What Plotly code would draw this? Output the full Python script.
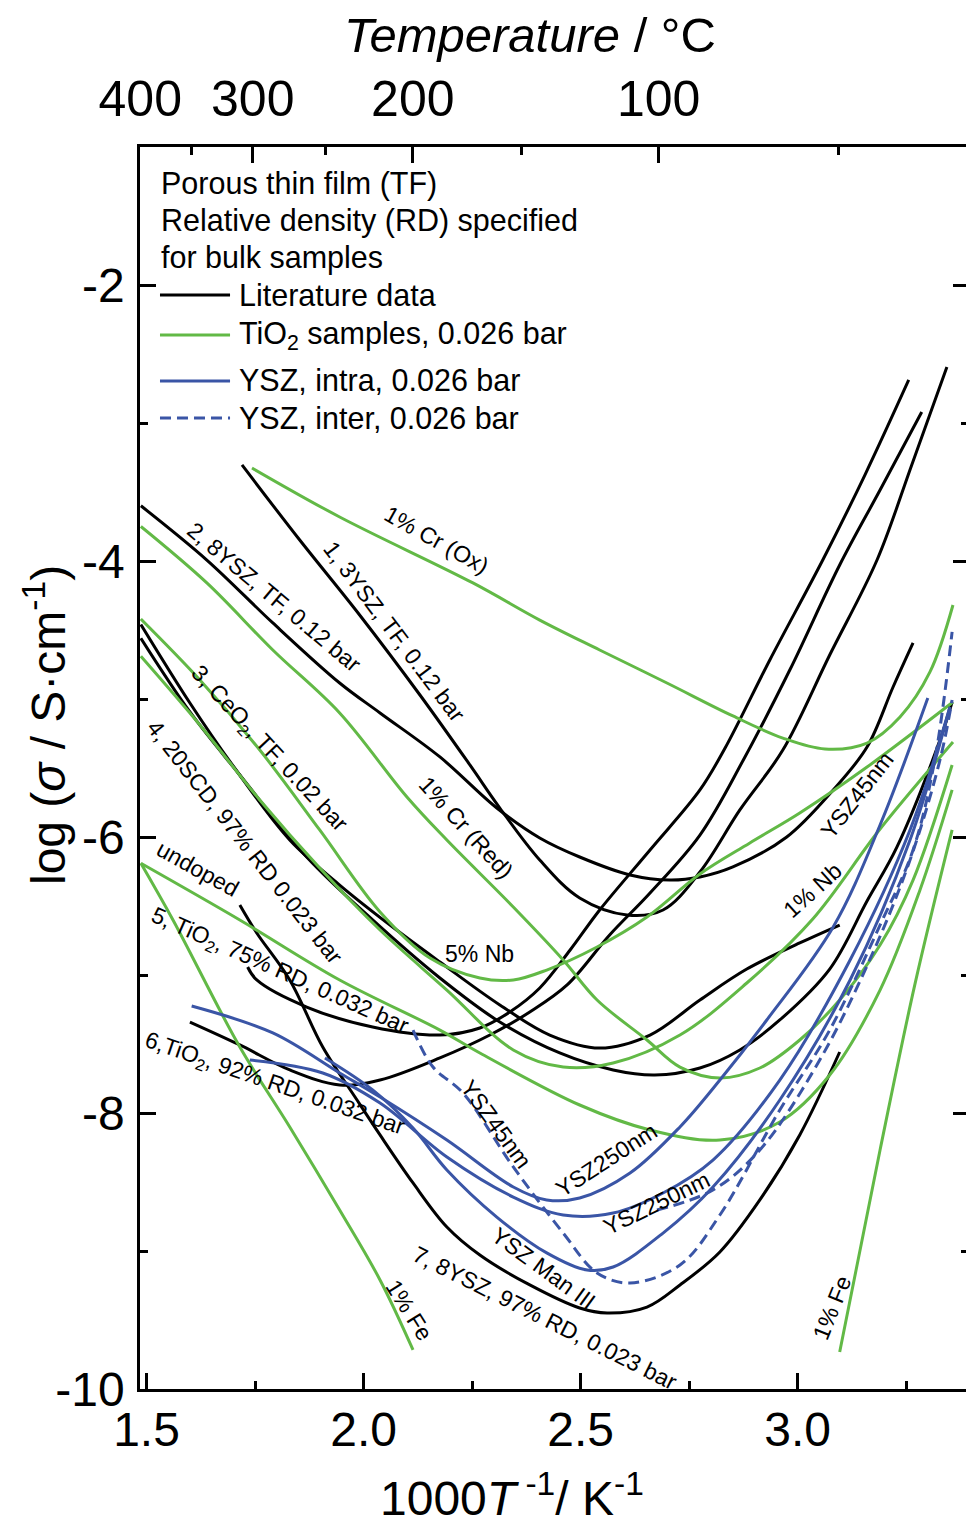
import plotly.graph_objects as go

# ---------------------------------------------------------------
# Conductivity data: x = 1000/T (K^-1), y = log10(sigma / S cm^-1)
# ---------------------------------------------------------------

# Literature data (black)
lit1_x = [1.720, 1.853, 1.991, 2.130, 2.245, 2.314, 2.406, 2.498, 2.607, 2.690, 2.775, 2.867, 2.966, 3.074, 3.183, 3.263, 3.344]
lit1_y = [-3.304, -3.848, -4.391, -4.971, -5.478, -5.790, -6.167, -6.442, -6.565, -6.529, -6.254, -5.804, -5.370, -4.681, -3.993, -3.304, -2.594]

lit2_x = [1.487, 1.639, 1.791, 1.945, 2.038, 2.176, 2.307, 2.406, 2.498, 2.614, 2.706, 2.775, 2.851, 2.975, 3.082, 3.160, 3.220, 3.266]
lit2_y = [-3.600, -3.993, -4.449, -4.884, -5.101, -5.420, -5.790, -6.007, -6.145, -6.275, -6.312, -6.290, -6.217, -6.000, -5.659, -5.348, -4.913, -4.594]

lit3_x = [1.487, 1.600, 1.703, 1.830, 1.945, 2.061, 2.176, 2.314, 2.429, 2.544, 2.660, 2.775, 2.883, 3.005, 3.097]
lit3_y = [-4.460, -5.029, -5.500, -6.022, -6.348, -6.638, -6.906, -7.217, -7.435, -7.529, -7.435, -7.181, -6.957, -6.768, -6.638]

lit4_x = [1.487, 1.600, 1.715, 1.869, 2.021, 2.176, 2.314, 2.452, 2.575, 2.671, 2.775, 2.867, 2.959, 3.074, 3.160, 3.229, 3.328, 3.356]
lit4_y = [-4.560, -5.094, -5.551, -6.145, -6.601, -7.022, -7.341, -7.565, -7.688, -7.725, -7.674, -7.543, -7.326, -6.957, -6.464, -6.072, -5.297, -5.022]

lit5_x = [1.733, 1.754, 1.869, 2.021, 2.176, 2.268, 2.337, 2.406, 2.476, 2.544, 2.660, 2.775, 2.833, 2.936, 3.058, 3.155, 3.256]
lit5_y = [-6.942, -7.036, -7.232, -7.377, -7.435, -7.384, -7.268, -7.094, -6.819, -6.529, -6.094, -5.659, -5.355, -4.717, -3.993, -3.377, -2.688]

lit6_x = [1.600, 1.715, 1.830, 1.945, 2.038, 2.176, 2.291, 2.383, 2.469, 2.567, 2.660, 2.775, 2.875, 2.982, 3.097, 3.190, 3.286]
lit6_y = [-7.341, -7.507, -7.688, -7.797, -7.761, -7.601, -7.435, -7.268, -7.072, -6.710, -6.406, -5.986, -5.442, -4.790, -4.029, -3.486, -2.920]

lit7_x = [1.715, 1.754, 1.830, 1.906, 1.985, 2.038, 2.114, 2.192, 2.268, 2.383, 2.498, 2.561, 2.653, 2.729, 2.821, 2.913, 3.005, 3.097]
lit7_y = [-6.493, -6.696, -7.036, -7.522, -7.906, -8.159, -8.507, -8.826, -9.029, -9.246, -9.413, -9.449, -9.406, -9.246, -9.007, -8.630, -8.159, -7.558]

# TiO2 samples (green)
cr_ox_x = [1.743, 1.945, 2.252, 2.406, 2.544, 2.699, 2.851, 2.966, 3.063, 3.160, 3.236, 3.305, 3.358]
cr_ox_y = [-3.326, -3.681, -4.159, -4.428, -4.645, -4.884, -5.123, -5.283, -5.362, -5.319, -5.130, -4.804, -4.319]

cr_red_x = [1.487, 1.639, 1.791, 1.945, 2.100, 2.192, 2.345, 2.460, 2.538, 2.653, 2.729, 2.821, 2.913, 3.005, 3.097, 3.190, 3.266, 3.356]
cr_red_y = [-3.750, -4.159, -4.645, -5.101, -5.710, -6.022, -6.507, -6.891, -7.181, -7.471, -7.667, -7.746, -7.674, -7.471, -7.181, -6.783, -6.312, -5.478]

nb5_x = [1.487, 1.623, 1.761, 1.899, 2.038, 2.153, 2.268, 2.345, 2.422, 2.538, 2.653, 2.775, 2.890, 3.005, 3.160, 3.358]
nb5_y = [-4.420, -4.862, -5.370, -5.949, -6.543, -6.877, -7.022, -7.036, -6.964, -6.797, -6.580, -6.268, -6.043, -5.826, -5.493, -5.022]

nb1_x = [1.487, 1.623, 1.761, 1.899, 2.038, 2.192, 2.345, 2.460, 2.575, 2.729, 2.883, 3.035, 3.190, 3.358]
nb1_y = [-4.690, -5.188, -5.732, -6.225, -6.674, -7.109, -7.543, -7.667, -7.638, -7.435, -7.058, -6.594, -5.942, -5.312]

undoped_x = [1.487, 1.715, 1.945, 2.176, 2.268, 2.498, 2.660, 2.821, 2.959, 3.074, 3.190, 3.282, 3.356]
undoped_y = [-6.190, -6.601, -7.036, -7.399, -7.565, -7.942, -8.123, -8.196, -8.065, -7.725, -7.109, -6.384, -5.659]

fe_hi_x = [1.487, 1.561, 1.715, 1.830, 1.945, 2.038, 2.114]
fe_hi_y = [-6.190, -6.601, -7.522, -8.101, -8.703, -9.210, -9.717]

fe_lo_x = [3.097, 3.190, 3.270, 3.356]
fe_lo_y = [-9.732, -8.268, -7.072, -5.949]

# YSZ, intra-grain (solid blue)
ysz_a_x = [1.604, 1.791, 1.945, 2.038, 2.192, 2.345, 2.422, 2.498, 2.614, 2.729, 2.821, 2.929, 3.082, 3.190, 3.300]
ysz_a_y = [-7.225, -7.420, -7.710, -7.884, -8.196, -8.536, -8.630, -8.616, -8.435, -8.101, -7.761, -7.326, -6.652, -5.913, -4.993]

ysz_b_x = [1.738, 1.906, 2.038, 2.192, 2.345, 2.460, 2.575, 2.690, 2.805, 2.959, 3.121, 3.259, 3.351]
ysz_b_y = [-7.616, -7.710, -7.928, -8.319, -8.609, -8.739, -8.725, -8.580, -8.341, -7.761, -6.891, -5.949, -5.058]

ysz_c_x = [1.911, 2.021, 2.114, 2.192, 2.307, 2.422, 2.515, 2.575, 2.690, 2.805, 2.959, 3.121, 3.259, 3.351]
ysz_c_y = [-7.601, -7.833, -8.109, -8.413, -8.754, -9.014, -9.138, -9.116, -8.870, -8.536, -7.906, -7.036, -6.022, -5.058]

# YSZ, inter-grain (dashed blue)
ysz_d_x = [2.114, 2.160, 2.229, 2.345, 2.460, 2.538, 2.614, 2.729, 2.821, 2.959, 3.074, 3.190, 3.266, 3.316, 3.356]
ysz_d_y = [-7.399, -7.667, -7.855, -8.391, -8.870, -9.159, -9.232, -9.101, -8.739, -7.978, -7.399, -6.638, -6.094, -5.442, -4.514]

ysz_e_x = [2.676, 2.805, 2.913, 3.051, 3.166, 3.259, 3.328, 3.356]
ysz_e_y = [-8.703, -8.558, -8.268, -7.616, -6.891, -6.167, -5.442, -5.007]

# Axis ticks
x_major = [1.5, 2.0, 2.5, 3.0]
x_minor = [1.75, 2.25, 2.75, 3.25]
y_major = [-10, -8, -6, -4, -2]
y_minor = [-9, -7, -5, -3]
temp_major_c = [400, 300, 200, 100]
temp_minor_c = [350, 250, 150, 50]

BLACK = "#000000"
GREEN = "#62b946"
BLUE = "#3a55a6"
DASH = "11px,6px"
FONT = "Liberation Sans, Arial, sans-serif"

X_RANGE = [1.485, 3.388]
Y_RANGE = [-10.0, -1.0]

series = [
    (lit1_x, lit1_y, BLACK, "solid"),
    (lit2_x, lit2_y, BLACK, "solid"),
    (lit3_x, lit3_y, BLACK, "solid"),
    (lit4_x, lit4_y, BLACK, "solid"),
    (lit5_x, lit5_y, BLACK, "solid"),
    (lit6_x, lit6_y, BLACK, "solid"),
    (lit7_x, lit7_y, BLACK, "solid"),
    (cr_ox_x, cr_ox_y, GREEN, "solid"),
    (cr_red_x, cr_red_y, GREEN, "solid"),
    (nb5_x, nb5_y, GREEN, "solid"),
    (nb1_x, nb1_y, GREEN, "solid"),
    (undoped_x, undoped_y, GREEN, "solid"),
    (fe_hi_x, fe_hi_y, GREEN, "solid"),
    (fe_lo_x, fe_lo_y, GREEN, "solid"),
    (ysz_a_x, ysz_a_y, BLUE, "solid"),
    (ysz_b_x, ysz_b_y, BLUE, "solid"),
    (ysz_c_x, ysz_c_y, BLUE, "solid"),
    (ysz_d_x, ysz_d_y, BLUE, DASH),
    (ysz_e_x, ysz_e_y, BLUE, DASH),
]

fig = go.Figure()
for xs, ys, color, dash in series:
    fig.add_trace(go.Scatter(
        x=xs, y=ys, mode="lines",
        line=dict(color=color, width=3, dash=dash, shape="spline", smoothing=1.0),
        showlegend=False, hoverinfo="skip",
    ))

# helper traces so the top and right axes are drawn
fig.add_trace(go.Scatter(x=[None], y=[None], xaxis="x2", yaxis="y", showlegend=False, hoverinfo="skip"))
fig.add_trace(go.Scatter(x=[None], y=[None], xaxis="x", yaxis="y2", showlegend=False, hoverinfo="skip"))

temp_major_x = [1000.0 / (t + 273.15) for t in temp_major_c]
temp_minor_x = [1000.0 / (t + 273.15) for t in temp_minor_c]

axis_common = dict(showgrid=False, zeroline=False, linecolor="black", linewidth=2.5,
                   ticks="inside", tickcolor="black", tickwidth=2.5)

fig.update_layout(
    width=966, height=1524,
    margin=dict(l=140, r=0, t=147, b=135),
    plot_bgcolor="white", paper_bgcolor="white",
    font=dict(family=FONT, color="black"),
    xaxis=dict(range=X_RANGE, showline=True, mirror=False, ticklen=16,
               tickmode="array", tickvals=x_major, ticktext=[f"{v:.1f}" for v in x_major],
               tickfont=dict(size=48, family=FONT), ticklabelstandoff=-3,
               minor=dict(ticks="inside", tickmode="array", tickvals=x_minor, ticklen=8,
                          tickwidth=2.5, tickcolor="black", showgrid=False),
               **axis_common),
    xaxis2=dict(range=X_RANGE, overlaying="x", side="top", anchor="y", showline=True, ticklen=16,
                tickmode="array", tickvals=temp_major_x, ticktext=[str(t) for t in temp_major_c],
                tickfont=dict(size=50, family=FONT), ticklabelstandoff=8,
                minor=dict(ticks="inside", tickmode="array", tickvals=temp_minor_x, ticklen=8,
                           tickwidth=2.5, tickcolor="black", showgrid=False),
                **axis_common),
    yaxis=dict(range=Y_RANGE, showline=True, mirror=False, ticklen=16,
               tickmode="array", tickvals=y_major, ticktext=[str(v) for v in y_major],
               tickfont=dict(size=48, family=FONT), ticklabelstandoff=3,
               minor=dict(ticks="inside", tickmode="array", tickvals=y_minor, ticklen=8,
                          tickwidth=2.5, tickcolor="black", showgrid=False),
               **axis_common),
    yaxis2=dict(range=Y_RANGE, overlaying="y", side="right", anchor="x", showline=False,
                ticklen=13, tickmode="array", tickvals=y_major, showticklabels=False,
                minor=dict(ticks="inside", tickmode="array", tickvals=y_minor, ticklen=5,
                           tickwidth=2.5, tickcolor="black", showgrid=False),
                **axis_common),
)

annotations = []

# axis titles
annotations.append(dict(xref="paper", yref="paper", x=0.472, y=1.0900, xanchor="center", yanchor="middle",
                        text="<i>Temperature</i> / °C", showarrow=False, font=dict(size=49, family=FONT)))
annotations.append(dict(xref="paper", yref="paper", x=0.450, y=-0.0850, xanchor="center", yanchor="middle",
                        text="1000<i>T</i><sup> -1</sup>/ K<sup>-1</sup>", showarrow=False,
                        font=dict(size=48, family=FONT)))
annotations.append(dict(xref="paper", yref="paper", x=-0.115, y=0.5346, xanchor="center", yanchor="middle",
                        textangle=-90, text="log (<i>σ</i> / S·cm<sup>-1</sup>)", showarrow=False,
                        font=dict(size=48, family=FONT)))

# key box: header lines and sample lines
header_lines = ["Porous thin film (TF)", "Relative density (RD) specified", "for bulk samples"]
header_y = [0.9710, 0.9412, 0.9114]
for txt, yy in zip(header_lines, header_y):
    annotations.append(dict(xref="paper", yref="paper", x=0.0230, y=yy, xanchor="left", yanchor="middle",
                            text=txt, showarrow=False, font=dict(size=30.5, family=FONT)))

key_items = [
    ("Literature data", BLACK, "solid", 0.8808, 0.8808),
    ("TiO<sub>2</sub> samples, 0.026 bar", GREEN, "solid", 0.8486, 0.8480),
    ("YSZ, intra, 0.026 bar", BLUE, "solid", 0.8116, 0.8124),
    ("YSZ, inter, 0.026 bar", BLUE, DASH, 0.7818, 0.7818),
]
shapes = []
for txt, color, dash, yline, ytext in key_items:
    shapes.append(dict(type="line", xref="paper", yref="paper", x0=0.0242, x1=0.109, y0=yline, y1=yline,
                       line=dict(color=color, width=3, dash=dash)))
    annotations.append(dict(xref="paper", yref="paper", x=0.1170, y=ytext, xanchor="left", yanchor="middle",
                            text=txt, showarrow=False, font=dict(size=30.5, family=FONT)))

# curve labels (text, x, y, angle)
curve_labels = [
    ("1% Cr (Ox)", 2.169, -3.848, 29),
    ("1, 3YSZ, TF, 0.12 bar", 2.072, -4.514, 53),
    ("2, 8YSZ, TF, 0.12 bar", 1.794, -4.261, 40),
    ("3, CeO<sub>2</sub>, TF, 0.02 bar", 1.780, -5.362, 47),
    ("4, 20SCD, 97% RD 0.023 bar", 1.727, -6.036, 52),
    ("1% Cr (Red)", 2.237, -5.935, 48),
    ("undoped", 1.619, -6.232, 29),
    ("5% Nb", 2.268, -6.848, 0),
    ("5, TiO<sub>2</sub>, 75% RD, 0.032 bar", 1.807, -6.978, 24),
    ("6,TiO<sub>2</sub>, 92% RD, 0.032 bar", 1.796, -7.797, 19),
    ("YSZ45nm", 2.305, -8.080, 54),
    ("YSZ250nm", 2.559, -8.341, -33),
    ("YSZ250nm", 2.676, -8.652, -26),
    ("YSZ Man III", 2.414, -9.123, 36),
    ("7, 8YSZ, 97% RD, 0.023 bar", 2.418, -9.486, 26.6),
    ("1% Fe", 2.105, -9.428, 58),
    ("1% Fe", 3.079, -9.413, -68),
    ("1% Nb", 3.035, -6.384, -42),
    ("YSZ45nm", 3.137, -5.696, -52),
]
for txt, lx, ly, ang in curve_labels:
    annotations.append(dict(xref="x", yref="y", x=lx, y=ly, xanchor="center", yanchor="middle",
                            text=txt, textangle=ang, showarrow=False, font=dict(size=23, family=FONT)))

fig.update_layout(annotations=annotations, shapes=shapes)
fig.write_html("out.html")
